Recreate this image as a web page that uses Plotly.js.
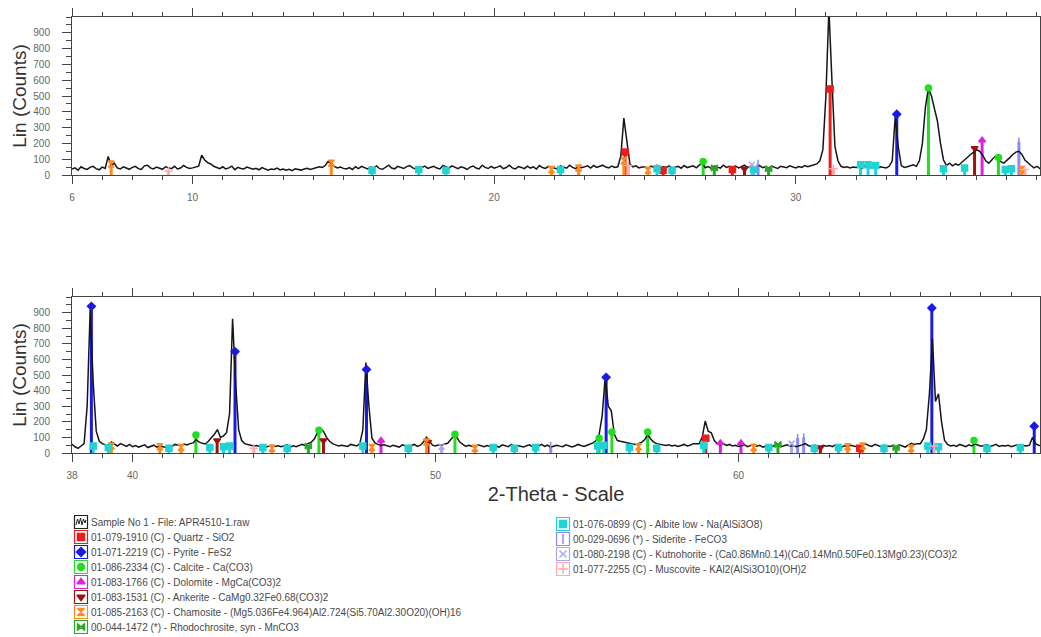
<!DOCTYPE html>
<html>
<head>
<meta charset="utf-8">
<script src="https://cdn.plot.ly/plotly-3.0.1.min.js"></script>
<style>html,body{margin:0;padding:0;background:#fff;}#chart{width:1041px;height:637px;}</style>
</head>
<body>
<div id="chart"></div>
<script>
// ---- Scan data: 2-Theta from 6.0 to 70.0, step 0.1 ----
const twoThetaStart = 6.0;
const twoThetaStep = 0.1;
const counts = [
 38,45,30,52,41,35,48,55,40,33,
 50,42,118,60,75,45,38,52,44,36,
 48,55,40,35,58,62,45,38,50,43,
 36,52,47,40,55,38,44,60,48,41,
 45,50,56,125,95,78,70,55,48,40,
 52,38,45,56,34,48,41,38,50,44,
 36,42,33,47,40,30,38,35,44,32,
 38,30,36,28,40,34,31,38,42,35,
 40,46,52,48,60,88,70,55,45,50,
 42,38,47,35,52,40,55,44,38,50,
 45,58,40,36,50,62,44,39,55,48,
 41,53,60,45,38,52,47,56,42,49,
 55,44,38,60,50,43,58,47,40,52,
 46,35,50,57,44,38,62,48,41,55,
 43,50,58,40,47,62,45,38,53,48,
 40,56,44,52,38,60,47,42,55,49,
 45,38,57,50,43,62,48,40,54,46,
 52,58,44,60,48,55,62,50,45,57,
 48,52,120,360,200,70,52,58,45,50,
 50,42,56,48,62,40,53,47,58,44,
 49,55,43,60,47,52,58,45,60,78,
 46,53,41,57,50,44,62,48,55,43,
 58,45,52,62,48,55,43,50,60,47,
 52,44,57,48,41,55,50,46,58,52,
 45,54,48,60,52,58,62,70,90,160,
 500,1050,600,180,90,55,48,52,45,50,
 47,53,44,58,50,46,55,42,52,48,
 45,55,90,370,180,60,48,52,58,65,
 55,90,200,430,550,500,420,340,200,95,
 60,75,58,70,62,80,95,110,130,145,
 160,150,125,90,75,95,115,105,85,75,
 90,110,130,145,150,130,95,75,60,45,
 55,40,30,45,60,300,920,450,140,75,
 60,52,48,70,55,45,60,50,42,55,
 40,48,38,45,52,35,42,50,38,46,
 40,35,48,42,55,50,46,58,52,60,
 65,85,70,62,58,75,95,120,150,100,
 110,130,250,860,450,150,80,60,55,50,
 45,48,40,52,38,44,50,42,47,40,
 44,52,38,46,40,50,55,48,62,70,
 90,130,155,140,100,75,60,52,45,50,
 48,42,55,50,45,60,150,580,300,95,
 65,55,48,52,44,40,50,45,38,52,
 45,40,48,55,42,50,70,100,75,50,
 45,52,48,58,62,85,110,100,70,55,
 42,50,45,38,52,44,40,48,42,50,
 45,38,52,47,40,55,42,48,44,38,
 46,52,40,48,45,55,42,50,38,46,
 50,44,40,52,47,38,45,55,48,42,
 50,58,65,80,120,240,490,300,270,120,
 80,75,70,65,60,58,55,62,68,85,
 120,90,70,60,55,50,48,52,45,50,
 42,48,55,45,50,60,58,60,100,205,
 140,130,80,58,52,60,48,55,45,50,
 42,48,52,40,46,55,44,50,38,45,
 50,42,48,55,40,46,52,44,48,40,
 45,52,60,48,42,50,45,38,50,44,
 48,40,52,45,38,47,42,50,46,40,
 45,52,58,48,42,55,47,40,50,45,
 42,48,40,52,45,38,50,62,55,60,
 60,90,150,380,730,330,380,200,80,55,
 45,50,42,55,48,40,52,45,58,50,
 44,48,52,40,46,55,42,48,45,50,
 40,46,52,42,48,45,50,100,60,50,
 45
];

// ---- Reference phase lines (2-Theta, intensity in counts) ----
const quartzPos = [24.34, 25.6, 27.9, 31.14, 58.92, 64.0];
const quartzInt = [145, 30, 35, 545, 95, 30];
const pyritePos = [33.35, 38.64, 43.38, 47.72, 55.63, 66.38, 69.76];
const pyriteInt = [385, 940, 650, 535, 485, 930, 172];
const calcitePos = [26.93, 34.40, 36.72, 42.09, 46.15, 50.64, 55.40, 55.82, 57.0, 67.77];
const calciteInt = [85, 550, 110, 115, 146, 120, 95, 134, 134, 80];
const dolomitePos = [36.18, 48.2, 59.4, 60.08];
const dolomiteInt = [220, 80, 65, 65];
const ankeritePos = [28.3, 35.93, 42.79, 46.3, 49.75, 62.7];
const ankeriteInt = [40, 170, 80, 80, 70, 35];
const chamositePos = [7.3, 14.6, 21.9, 22.8, 24.3, 25.1, 37.5, 39.3, 40.9, 41.6, 44.6, 47.9, 49.7, 51.3, 56.7, 60.5, 63.6, 64.1, 65.7];
const chamositeInt = [70, 75, 35, 45, 90, 30, 35, 45, 40, 35, 30, 35, 70, 30, 40, 35, 40, 45, 30];
const rhodoPos = [27.3, 29.1, 45.8, 61.3, 65.2];
const rhodoInt = [45, 40, 45, 55, 35];
const albitePos = [15.95, 17.5, 18.4, 22.2, 25.4, 25.9, 28.6, 32.15, 32.4, 32.65, 34.9, 35.6, 36.95, 37.15, 38.7, 39.2, 41.2, 42.55, 43.0, 43.2, 44.3, 45.1, 47.6, 49.1, 51.9, 52.6, 53.3, 55.35, 55.55, 56.4, 57.3, 58.85, 61.0, 62.5, 63.3, 64.8, 66.25, 66.6, 68.2, 69.3];
const albiteInt = [30, 35, 30, 35, 40, 30, 35, 65, 65, 60, 40, 45, 35, 40, 45, 35, 30, 35, 40, 45, 35, 30, 45, 30, 35, 30, 35, 45, 50, 35, 30, 50, 35, 30, 35, 30, 45, 40, 30, 35];
const sideritePos = [28.75, 37.4, 53.8, 61.95, 62.15];
const sideriteInt = [70, 210, 45, 95, 100];
const kutnoPos = [28.55, 50.2, 61.75];
const kutnoInt = [65, 40, 60];
const muscovitePos = [9.2, 24.45, 31.25, 37.6, 44.0, 66.45];
const muscoviteInt = [25, 60, 40, 35, 30, 45];

const phaseNames = [
 "01-079-1910 (C) - Quartz - SiO2",
 "01-071-2219 (C) - Pyrite - FeS2",
 "01-086-2334 (C) - Calcite - Ca(CO3)",
 "01-083-1766 (C) - Dolomite - MgCa(CO3)2",
 "01-083-1531 (C) - Ankerite - CaMg0.32Fe0.68(CO3)2",
 "01-085-2163 (C) - Chamosite - (Mg5.036Fe4.964)Al2.724(Si5.70Al2.30O20)(OH)16",
 "00-044-1472 (*) - Rhodochrosite, syn - MnCO3",
 "01-076-0899 (C) - Albite low - Na(AlSi3O8)",
 "00-029-0696 (*) - Siderite - FeCO3",
 "01-080-2198 (C) - Kutnohorite - (Ca0.86Mn0.14)(Ca0.14Mn0.50Fe0.13Mg0.23)(CO3)2",
 "01-077-2255 (C) - Muscovite - KAl2(AlSi3O10)(OH)2"
];
const sampleName = "Sample No 1 - File: APR4510-1.raw";

const phases = [
 {pos: quartzPos, inten: quartzInt, color: '#ee1c1c', symbol: 'square'},
 {pos: pyritePos, inten: pyriteInt, color: '#1a1ae6', symbol: 'diamond'},
 {pos: calcitePos, inten: calciteInt, color: '#22dd22', symbol: 'circle'},
 {pos: dolomitePos, inten: dolomiteInt, color: '#dd22dd', symbol: 'triangle-up'},
 {pos: ankeritePos, inten: ankeriteInt, color: '#a01010', symbol: 'triangle-down'},
 {pos: chamositePos, inten: chamositeInt, color: '#ff8a1e', symbol: 'hourglass'},
 {pos: rhodoPos, inten: rhodoInt, color: '#2aa82a', symbol: 'bowtie'},
 {pos: albitePos, inten: albiteInt, color: '#22d3d3', symbol: 'square'},
 {pos: sideritePos, inten: sideriteInt, color: '#8c8cf0', symbol: 'line-ns-open'},
 {pos: kutnoPos, inten: kutnoInt, color: '#a8a8f5', symbol: 'x-thin-open'},
 {pos: muscovitePos, inten: muscoviteInt, color: '#ffaaaa', symbol: 'cross-thin-open'}
];
phases.forEach((p, i) => p.name = phaseNames[i]);

const twoTheta = counts.map((_, i) => +(twoThetaStart + i * twoThetaStep).toFixed(2));

const traces = [];
const panels = [{x: 'x', y: 'y'}, {x: 'x2', y: 'y2'}];

// sticks
panels.forEach(ax => {
  phases.forEach(p => {
    const sx = [], sy = [];
    p.pos.forEach((v, k) => { sx.push(v, v, null); sy.push(0, p.inten[k], null); });
    traces.push({x: sx, y: sy, xaxis: ax.x, yaxis: ax.y, mode: 'lines',
      line: {color: p.color, width: 3}, hoverinfo: 'skip', showlegend: false});
  });
});
// pattern
panels.forEach(ax => {
  traces.push({x: twoTheta, y: counts, xaxis: ax.x, yaxis: ax.y, mode: 'lines',
    line: {color: '#151515', width: 1.5}, name: sampleName, showlegend: false});
});
// markers on top of sticks
panels.forEach(ax => {
  phases.forEach(p => {
    traces.push({x: p.pos, y: p.inten, xaxis: ax.x, yaxis: ax.y, mode: 'markers',
      marker: {color: p.color, symbol: p.symbol, size: 6, line: {color: p.color, width: 1.5}},
      hoverinfo: 'skip', showlegend: false});
  });
});

// ---- Hand-drawn legend (two columns) on a hidden pixel-like axis ----
const W = 1041, H = 637, mt = 17, mb = 0, ml = 72, mr = 1;
const ph = H - mt - mb;
const dom = (pxBottom, pxTop) => [(H - mb - pxBottom) / ph, (H - mb - pxTop) / ph];
const legendTopPx = 510;

const legendRowGap = 15;
const legendCol1 = {iconX: 81, textX: 89, firstY: 522};
const legendCol2 = {iconX: 563, textX: 571, firstY: 524};
const legendItems = [{name: sampleName, color: '#222', symbol: null}].concat(phases.map(p => ({name: p.name, color: p.color, symbol: p.symbol})));
const col1Count = 8;
const annotations = [];
const boxX = [], boxY = [], boxC = [];
legendItems.forEach((it, i) => {
  const col = i < col1Count ? legendCol1 : legendCol2;
  const row = i < col1Count ? i : i - col1Count;
  const cy = col.firstY + row * legendRowGap;
  it.cx = col.iconX; it.cy = cy;
  boxX.push(col.iconX); boxY.push(cy); boxC.push(it.color);
  annotations.push({xref: 'x3', yref: 'y3', x: col.textX, y: cy + 0.5, text: it.name, showarrow: false,
    xanchor: 'left', yanchor: 'middle', font: {size: 10, color: '#4a4a4a'}});
});
traces.push({x: boxX, y: boxY, xaxis: 'x3', yaxis: 'y3', mode: 'markers', hoverinfo: 'skip', showlegend: false,
  marker: {symbol: 'square-open', size: 13, color: boxC, line: {width: 1.2, color: boxC}}, cliponaxis: false});
legendItems.slice(1).forEach(it => {
  traces.push({x: [it.cx], y: [it.cy], xaxis: 'x3', yaxis: 'y3', mode: 'markers', hoverinfo: 'skip', showlegend: false,
    marker: {symbol: it.symbol, size: 7, color: it.color, line: {width: 1.5, color: it.color}}, cliponaxis: false});
});
// sample icon: small wiggle inside the black box
const wiggleDx = [-5, -3.5, -2, -0.5, 1, 2.5, 4, 5];
const wiggleDy = [3, -3, 2, -4, 3, -3, 1, -2];
traces.push({x: wiggleDx.map(d => legendItems[0].cx + d), y: wiggleDy.map(d => legendItems[0].cy + d),
  xaxis: 'x3', yaxis: 'y3', mode: 'lines', line: {color: '#222', width: 1}, hoverinfo: 'skip', showlegend: false});

const tickFont = {size: 10, color: '#666'};
const xCommon = {showline: true, linecolor: '#444', linewidth: 1, mirror: 'allticks', ticks: 'outside', ticklen: 8,
  tickcolor: '#444', showgrid: false, zeroline: false, tickfont: tickFont, ticklabelstandoff: 5,
  minor: {dtick: 1, ticks: 'outside', ticklen: 4, tickcolor: '#444', showgrid: false}};
const yCommon = {showline: true, linecolor: '#444', linewidth: 1, mirror: 'allticks', ticks: 'outside', ticklen: 9,
  tickcolor: '#444', showgrid: false, zeroline: false, tickfont: tickFont, range: [0, 1000],
  tickvals: [0,100,200,300,400,500,600,700,800,900], ticklabelstandoff: 10,
  minor: {dtick: 50, tick0: 0, ticks: 'outside', ticklen: 5, tickcolor: '#444', showgrid: false},
  title: {text: 'Lin (Counts)', font: {size: 19, color: '#333'}, standoff: 1}};

const layout = {
  width: W, height: H,
  margin: {l: ml, r: mr, t: mt, b: mb},
  paper_bgcolor: '#fff', plot_bgcolor: 'rgba(0,0,0,0)',
  font: {family: 'Liberation Sans, Arial, sans-serif', color: '#444'},
  showlegend: false,
  xaxis: Object.assign({}, xCommon, {domain: [0, 1], anchor: 'y', range: [6, 38.1], tickvals: [6, 10, 20, 30],
    minor: Object.assign({}, xCommon.minor, {tick0: 6})}),
  yaxis: Object.assign({}, yCommon, {domain: dom(175, 17), anchor: 'x'}),
  xaxis2: Object.assign({}, xCommon, {domain: [0, 1], anchor: 'y2', range: [38, 69.95], tickvals: [38, 40, 50, 60],
    minor: Object.assign({}, xCommon.minor, {tick0: 38}),
    title: {text: '2-Theta - Scale', font: {size: 20, color: '#333'}, standoff: 6}}),
  yaxis2: Object.assign({}, yCommon, {domain: dom(453, 297), anchor: 'x2'}),
  xaxis3: {domain: [0, 1], range: [ml, W - mr], visible: false, fixedrange: true, anchor: 'y3'},
  yaxis3: {domain: dom(H - mb, legendTopPx), range: [H - mb, legendTopPx], visible: false, fixedrange: true, anchor: 'x3'},
  annotations: annotations
};

Plotly.newPlot('chart', traces, layout, {staticPlot: true, displayModeBar: false});
</script>
</body>
</html>
